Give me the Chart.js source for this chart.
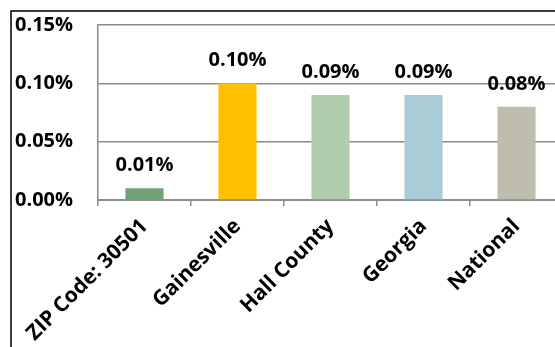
<!DOCTYPE html>
<html>
<head>
<meta charset="utf-8">
<script src="https://cdn.jsdelivr.net/npm/chart.js@4.4.1/dist/chart.umd.min.js"></script>
<style>
  html, body { margin: 0; padding: 0; background: #fff; overflow: hidden; }
  #wrap { position: relative; width: 575px; height: 347px; }
</style>
</head>
<body>
<div id="wrap"><canvas id="chart"></canvas></div>
<script>
const areas = ['ZIP Code: 30501', 'Gainesville', 'Hall County', 'Georgia', 'National'];
const rates = [0.01, 0.10, 0.09, 0.09, 0.08];   // in percent
const barColors = ['#70a377', '#ffc000', '#b0cdb0', '#a9ccd6', '#bfbdae'];
const yTicks = [0, 0.05, 0.10, 0.15];

const pct = v => v.toFixed(2) + '%';
const FAMILY = '"Open Sans", Lato, sans-serif';
const GRID = '#8c8c8c';

// outer frame edges, top and left
const framePlugin = {
  id: 'frame',
  afterDraw(chart) {
    const c = chart.ctx;
    c.save();
    c.strokeStyle = '#000';
    c.lineWidth = 1.5;
    c.beginPath();
    c.moveTo(11, chart.height);
    c.lineTo(11, 11);
    c.lineTo(chart.width, 11);
    c.stroke();
    c.restore();
  }
};

// value above each bar
const valueLabels = {
  id: 'valueLabels',
  afterDatasetsDraw(chart) {
    const c = chart.ctx;
    const meta = chart.getDatasetMeta(0);
    c.save();
    c.font = 'bold 20px ' + FAMILY;
    c.fillStyle = '#000';
    c.textAlign = 'center';
    c.textBaseline = 'alphabetic';
    meta.data.forEach((bar, i) => {
      c.fillText(pct(rates[i]), bar.x, bar.y - 17);
    });
    c.restore();
  }
};

new Chart(document.getElementById('chart'), {
  type: 'bar',
  data: {
    labels: areas,
    datasets: [{
      data: rates,
      backgroundColor: barColors,
      borderWidth: 0,
      categoryPercentage: 1,
      barPercentage: 0.41
    }]
  },
  options: {
    responsive: true,
    maintainAspectRatio: false,
    animation: false,
    layout: { padding: { left: 15, top: 25, right: 12, bottom: 0 } },
    plugins: { legend: { display: false }, tooltip: { enabled: false } },
    scales: {
      x: {
        grid: { drawOnChartArea: false, color: GRID, lineWidth: 1.5, tickLength: 6, offset: true },
        border: { color: GRID, width: 2 },
        ticks: {
          color: '#000',
          font: { family: FAMILY, weight: 'bold', size: 21 },
          minRotation: 45, maxRotation: 45, padding: 8, autoSkip: false
        },
        afterFit(s) { s.height = 147; }
      },
      y: {
        min: 0,
        max: 0.15,
        afterBuildTicks(s) { s.ticks = yTicks.map(v => ({ value: v })); },
        grid: { color: GRID, lineWidth: 1.5, drawTicks: false },
        border: { color: GRID, width: 1.5 },
        ticks: {
          color: '#000',
          font: { family: FAMILY, weight: 'bold', size: 20 },
          crossAlign: 'far', padding: 0, callback: v => pct(v)
        },
        afterFit(s) { s.width = 83; }
      }
    }
  },
  plugins: [framePlugin, valueLabels]
});
</script>
</body>
</html>
